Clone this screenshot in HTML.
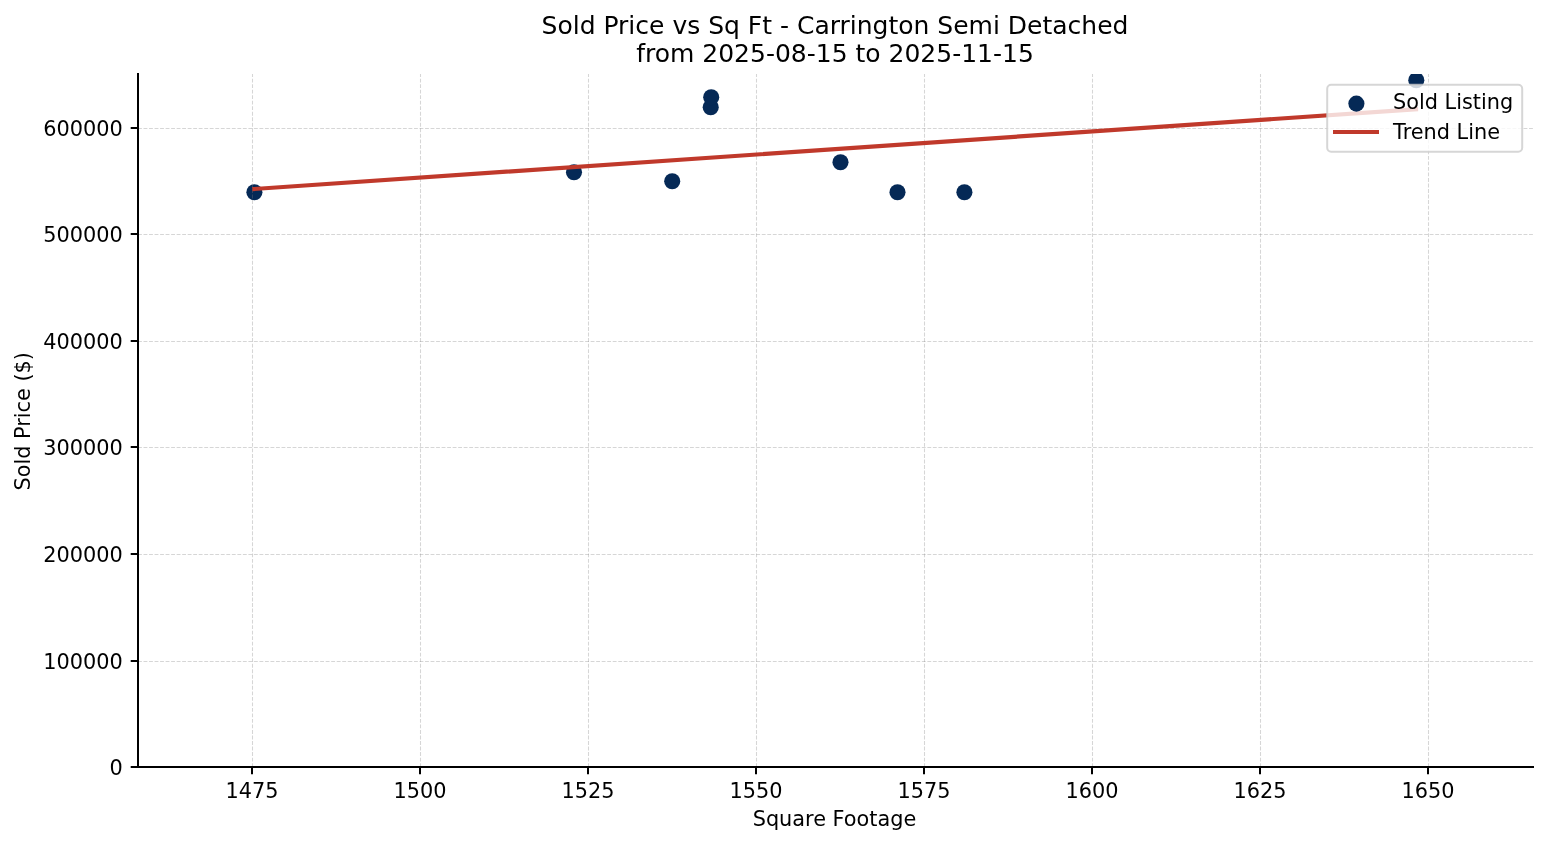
<!DOCTYPE html>
<html lang="en"><head><meta charset="utf-8"><title>Sold Price vs Sq Ft</title>
<style>html,body{margin:0;padding:0;background:#fff}svg{display:block}</style></head>
<body>
<svg width="1547" height="845" viewBox="0 0 1547 845" font-family="'DejaVu Sans', 'Liberation Sans', sans-serif" fill="#000">
<rect width="1547" height="845" fill="#fff"/>
<defs><clipPath id="axclip"><rect x="138" y="74" width="1395" height="693"/></clipPath></defs>
<g fill="#052956" clip-path="url(#axclip)">
<circle cx="254.4" cy="192.3" r="8.05"/>
<circle cx="574" cy="172.2" r="8.05"/>
<circle cx="672.2" cy="181.3" r="8.05"/>
<circle cx="710.7" cy="107.3" r="8.05"/>
<circle cx="711.2" cy="97.3" r="8.05"/>
<circle cx="840.5" cy="162.3" r="8.05"/>
<circle cx="897.5" cy="192.3" r="8.05"/>
<circle cx="964.4" cy="192.3" r="8.05"/>
<circle cx="1416.3" cy="80.2" r="8.05"/>
</g>
<g stroke="#808080" stroke-opacity="0.32" stroke-width="1.04" stroke-dasharray="3.85 1.67" fill="none">
<line x1="252.5" y1="767.0" x2="252.5" y2="74.0"/>
<line x1="420.5" y1="767.0" x2="420.5" y2="74.0"/>
<line x1="588.5" y1="767.0" x2="588.5" y2="74.0"/>
<line x1="756.5" y1="767.0" x2="756.5" y2="74.0"/>
<line x1="924.5" y1="767.0" x2="924.5" y2="74.0"/>
<line x1="1092.5" y1="767.0" x2="1092.5" y2="74.0"/>
<line x1="1260.5" y1="767.0" x2="1260.5" y2="74.0"/>
<line x1="1428.5" y1="767.0" x2="1428.5" y2="74.0"/>
<line x1="138.0" y1="767.5" x2="1533.0" y2="767.5"/>
<line x1="138.0" y1="661.5" x2="1533.0" y2="661.5"/>
<line x1="138.0" y1="554.5" x2="1533.0" y2="554.5"/>
<line x1="138.0" y1="447.5" x2="1533.0" y2="447.5"/>
<line x1="138.0" y1="341.5" x2="1533.0" y2="341.5"/>
<line x1="138.0" y1="234.5" x2="1533.0" y2="234.5"/>
<line x1="138.0" y1="128.5" x2="1533.0" y2="128.5"/>
</g>
<line x1="254.4" y1="189.0" x2="1416" y2="109.2" stroke="#c0392b" stroke-width="4.17" stroke-linecap="square"/>
<g stroke="#000" stroke-width="2" stroke-linecap="butt">
<line x1="138.0" y1="768.0" x2="138.0" y2="73.0"/>
<line x1="137.0" y1="767.0" x2="1534.0" y2="767.0"/>
<line x1="252" y1="767.0" x2="252" y2="774.3"/>
<line x1="420" y1="767.0" x2="420" y2="774.3"/>
<line x1="588" y1="767.0" x2="588" y2="774.3"/>
<line x1="756" y1="767.0" x2="756" y2="774.3"/>
<line x1="924" y1="767.0" x2="924" y2="774.3"/>
<line x1="1092" y1="767.0" x2="1092" y2="774.3"/>
<line x1="1260" y1="767.0" x2="1260" y2="774.3"/>
<line x1="1428" y1="767.0" x2="1428" y2="774.3"/>
<line x1="138.0" y1="767" x2="130.7" y2="767"/>
<line x1="138.0" y1="661" x2="130.7" y2="661"/>
<line x1="138.0" y1="554" x2="130.7" y2="554"/>
<line x1="138.0" y1="447" x2="130.7" y2="447"/>
<line x1="138.0" y1="341" x2="130.7" y2="341"/>
<line x1="138.0" y1="234" x2="130.7" y2="234"/>
<line x1="138.0" y1="128" x2="130.7" y2="128"/>
</g>
<g font-size="20.833px">
<text x="252.0" y="797.7" text-anchor="middle">1475</text>
<text x="420.0" y="797.7" text-anchor="middle">1500</text>
<text x="588.0" y="797.7" text-anchor="middle">1525</text>
<text x="756.0" y="797.7" text-anchor="middle">1550</text>
<text x="924.0" y="797.7" text-anchor="middle">1575</text>
<text x="1092.0" y="797.7" text-anchor="middle">1600</text>
<text x="1260.0" y="797.7" text-anchor="middle">1625</text>
<text x="1428.0" y="797.7" text-anchor="middle">1650</text>
<text x="122.8" y="774.9" text-anchor="end">0</text>
<text x="122.8" y="668.9" text-anchor="end">100000</text>
<text x="122.8" y="561.9" text-anchor="end">200000</text>
<text x="122.8" y="454.9" text-anchor="end">300000</text>
<text x="122.8" y="348.9" text-anchor="end">400000</text>
<text x="122.8" y="241.9" text-anchor="end">500000</text>
<text x="122.8" y="135.9" text-anchor="end">600000</text>
<text x="834.5" y="825.8" text-anchor="middle">Square Footage</text>
<text transform="translate(29.7,421.3) rotate(-90)" text-anchor="middle">Sold Price ($)</text>
</g>
<g font-size="25.0px" text-anchor="middle">
<text x="835" y="33.5">Sold Price vs Sq Ft - Carrington Semi Detached</text>
<text x="835" y="61.5">from 2025-08-15 to 2025-11-15</text>
</g>
<rect x="1327.2" y="84.8" width="195" height="67" rx="4" ry="4" fill="#fff" fill-opacity="0.8" stroke="#ccc" stroke-opacity="0.8" stroke-width="2"/>
<circle cx="1356.4" cy="103.6" r="8.05" fill="#052956"/>
<line x1="1333" y1="132" x2="1379" y2="132" stroke="#c0392b" stroke-width="4.17"/>
<g font-size="20.833px"><text x="1393" y="109">Sold Listing</text><text x="1393" y="138.5">Trend Line</text></g>
</svg>
</body></html>
